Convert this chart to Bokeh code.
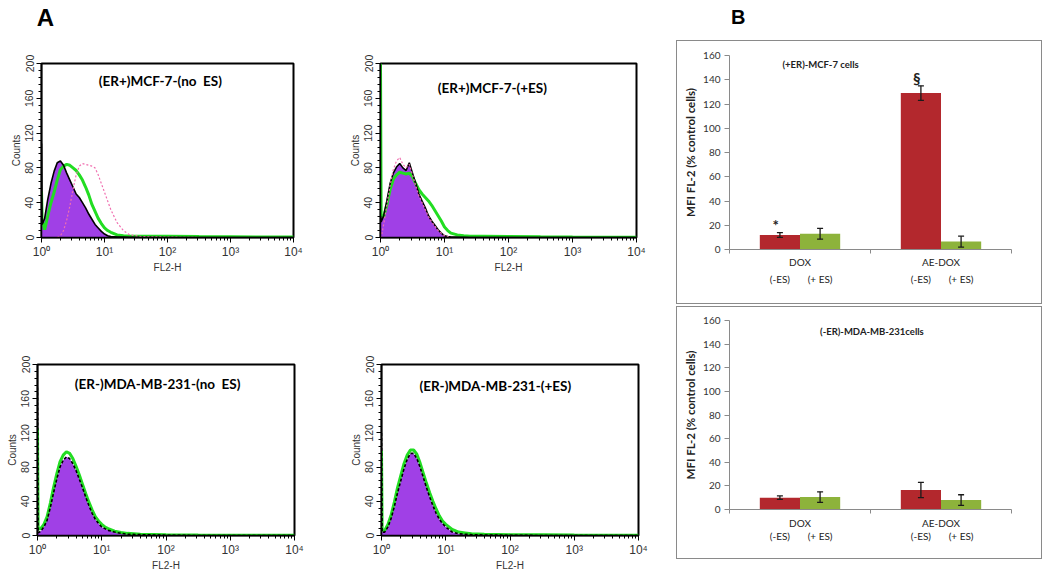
from bokeh.plotting import figure
from bokeh.layouts import row, column, Spacer
from bokeh.models import (Range1d, FixedTicker, LinearAxis, ColumnDataSource)
from bokeh.transform import dodge
from bokeh.core.properties import value
from bokeh.embed import file_html
from bokeh.resources import INLINE

# ---------------- DATA ----------------
# FL2-H channel positions (log-spaced bins)
fl2_h = [1.0, 1.023, 1.122, 1.259, 1.413, 1.585, 1.778, 1.995, 2.239, 2.512, 2.818,
         3.162, 3.548, 3.981, 4.467, 5.012, 5.623, 6.310, 7.079, 7.943, 8.913, 10.0,
         11.22, 12.59, 15.85, 19.95, 25.12, 39.81, 100.0, 316.2, 1000.0, 3162.0, 10000.0]

# (ER+) MCF-7, no ES
mcf7_noes_purple = [108, 15, 22, 44, 62, 76, 86, 88, 83, 74, 66, 58, 50, 46, 40, 34, 27, 21,
                    15, 11, 7, 4, 2, 1, 0.5, 0.5, 0.3, 0.2, 0, 0, 0, 0, 0]
mcf7_noes_green = [53, 20, 9, 25, 40, 52, 66, 78, 82, 84, 83, 80, 77, 72, 66, 58, 49, 38,
                   30, 22, 16, 11, 8, 6, 3, 2, 1.5, 1.5, 1.5, 1.2, 1, 0.5, 0.5]
mcf7_noes_pink = [0, 0, 0, 0, 0, 0, 0, 2, 8, 20, 36, 55, 72, 82, 85, 84, 83, 82,
                  80, 72, 62, 52, 42, 32, 17, 8, 3, 1, 0.5, 0, 0, 0, 0]
# (ER+) MCF-7, +ES
mcf7_es_purple = [25, 18, 25, 42, 62, 74, 81, 85, 80, 77, 86, 74, 62, 50, 42, 34, 25, 19,
                  14, 9, 5, 2, 1, 0.5, 0.3, 0.2, 0, 0, 0, 0, 0, 0, 0]
mcf7_es_green = [200, 25, 24, 38, 55, 67, 72, 75, 74, 73, 74, 70, 62, 55, 50, 46, 42, 37,
                 31, 25, 19, 12, 8, 5, 3, 2, 1.5, 1.5, 1.2, 0.8, 0.5, 0.3, 0.3]
mcf7_es_pink = [0, 0, 15, 38, 60, 78, 88, 92, 84, 80, 84, 72, 60, 48, 40, 32, 24, 18,
                13, 8, 5, 2, 1, 0, 0, 0, 0, 0, 0, 0, 0, 0, 0]
# (ER-) MDA-MB-231, no ES
mda_noes_purple = [173, 3, 5, 10, 18, 33, 50, 66, 80, 88, 92, 90, 84, 76, 66, 56, 45, 35,
                   26, 19, 14, 10, 8, 6, 4, 2.5, 1.5, 1, 0.3, 0, 0, 0, 0]
mda_noes_green = [125, 8, 8, 13, 22, 38, 56, 72, 86, 94, 98, 96, 90, 81, 71, 60, 49, 39,
                  30, 22, 17, 13, 10, 8, 5, 3.5, 2.5, 1.5, 1, 0.5, 0.3, 0.2, 0.2]
# (ER-) MDA-MB-231, +ES
mda_es_purple = [120, 4, 4, 10, 20, 34, 50, 64, 78, 89, 96, 96, 90, 80, 68, 56, 45, 35,
                 26, 19, 14, 10, 7, 4, 2, 1.5, 1, 0.5, 0.3, 0, 0, 0, 0]
mda_es_green = [99, 6, 6, 13, 24, 39, 56, 70, 84, 94, 100, 100, 95, 85, 73, 61, 50, 40,
                31, 23, 17, 13, 10, 7, 4, 3, 2, 1.5, 1, 0.8, 0.5, 0.3, 0.3]

hist_titles = ["(ER+)MCF-7-(no\u00a0\u00a0ES)", "(ER+)MCF-7-(+ES)",
               "(ER-)MDA-MB-231-(no\u00a0\u00a0ES)", "(ER-)MDA-MB-231-(+ES)"]
count_ticks = [0, 40, 80, 120, 160, 200]
count_minor = [0, 8, 16, 24, 32, 40, 48, 56, 64, 72, 80, 88, 96, 104, 112, 120, 128, 136,
               144, 152, 160, 168, 176, 184, 192, 200]
decade_ticks = [1, 10, 100, 1000, 10000]
decade_labels = ["10\u2070", "10\u00b9", "10\u00b2", "10\u00b3", "10\u2074"]

# Panel B: MFI FL-2 (% control cells)
treatments = ["DOX", "AE-DOX"]
es_labels = ["(-ES)", "(+ ES)"]
mcf7_minus_es = [12, 129]
mcf7_minus_es_err = [2, 6]
mcf7_plus_es = [13, 6.5]
mcf7_plus_es_err = [4.5, 4.5]
mcf7_sig = ["*", "\u00a7"]
mda_minus_es = [10, 16.5]
mda_minus_es_err = [1.5, 6.5]
mda_plus_es = [10.5, 8]
mda_plus_es_err = [4.5, 4.5]
mda_sig = ["", ""]
mfi_ticks = [0, 20, 40, 60, 80, 100, 120, 140, 160]

PURPLE = "#A040E6"
GREEN = "#22DD22"
PINK = "#F06FB0"
RED = "#B3282D"
OLIVE = "#8DB33B"
SANS = "Liberation Sans"
CAL = "Lato"


def hist(title, purple, green, pink, w, h, left, top, fw, fh, tx, ty, dashed):
    p = figure(width=w, height=h, x_axis_type="log", x_range=Range1d(1, 10000),
               y_range=Range1d(0, 200), output_backend="svg", toolbar_location=None,
               min_border_left=left, min_border_top=top,
               min_border_right=w - left - fw, min_border_bottom=h - top - fh)
    p.grid.visible = False
    p.outline_line_color = "black"
    p.outline_line_width = 2
    p.background_fill_color = "white"
    p.border_fill_color = "white"
    src = ColumnDataSource(dict(x=fl2_h, purple=purple, green=green,
                                pink=pink if pink else [0] * len(fl2_h)))
    p.varea(x="x", y1=0, y2="purple", source=src, fill_color=PURPLE)
    p.line(x="x", y="green", source=src, line_color=GREEN, line_width=3)
    p.line(x="x", y="purple", source=src, line_color="black",
           line_width=1.6, line_dash="3 2" if dashed else "solid")
    if pink:
        p.line(x="x", y="pink", source=src, line_color=PINK, line_width=1.2,
               line_dash="2 2")
    p.text(x=[tx], y=[ty], text=[title], text_font=value(CAL), text_font_style="bold",
           text_font_size="13.5px", text_align="center", text_baseline="middle",
           text_color="black")
    xa = p.xaxis[0]
    xa.ticker = FixedTicker(ticks=decade_ticks,
                            minor_ticks=[m * d for d in decade_ticks[:-1] for m in range(2, 10)])
    xa.major_label_overrides = dict(zip(decade_ticks, decade_labels))
    ya = p.yaxis[0]
    ya.ticker = FixedTicker(ticks=count_ticks, minor_ticks=count_minor)
    ya.major_label_orientation = "vertical"
    for ax, lab in ((xa, "FL2-H"), (ya, "Counts")):
        ax.axis_label = lab
        ax.axis_label_text_font = SANS
        ax.axis_label_text_font_style = "normal"
        ax.axis_label_text_font_size = "10px"
        ax.axis_label_text_color = "#333333"
        ax.axis_label_standoff = 1
        ax.major_label_text_font = SANS
        ax.major_label_text_font_size = "10.5px"
        ax.major_label_text_color = "#333333"
        ax.axis_line_color = "black"
        ax.axis_line_width = 1.5
        ax.major_tick_out = 5
        ax.major_tick_in = 0
        ax.minor_tick_out = 3
        ax.minor_tick_in = 0
        ax.major_tick_line_color = "black"
        ax.minor_tick_line_color = "black"
        ax.major_label_standoff = 3
    xa.major_label_text_font_size = "12px"
    xa.major_label_standoff = 2
    xa.axis_label_standoff = 0
    return p


def bars(title, tx, ty, minus, minus_err, plus, plus_err, sig, w, h,
         left, top, fw, fh, main_standoff, sub_standoff):
    n = len(treatments)
    p = figure(width=w, height=h, x_range=Range1d(0, n),
               y_range=Range1d(0, 160), output_backend="svg", toolbar_location=None,
               x_axis_location=None, min_border_left=left, min_border_top=top,
               min_border_right=w - left - fw, min_border_bottom=h - top - fh,
               styles={"border": "1.5px solid #8a8a8a", "box-sizing": "border-box"})
    p.grid.visible = False
    p.outline_line_color = None
    off = 0.1425
    bw = 0.285
    src = ColumnDataSource(dict(
        cat=treatments, pos=[i + 0.5 for i in range(n)], minus=minus, plus=plus,
        minus_lo=[v - e for v, e in zip(minus, minus_err)],
        minus_hi=[v + e for v, e in zip(minus, minus_err)],
        plus_lo=[v - e for v, e in zip(plus, plus_err)],
        plus_hi=[v + e for v, e in zip(plus, plus_err)],
        sig=sig))
    xm = dodge("pos", -off)
    xp = dodge("pos", off)
    p.vbar(x=xm, top="minus", width=bw, source=src, fill_color=RED, line_color=None)
    p.vbar(x=xp, top="plus", width=bw, source=src, fill_color=OLIVE, line_color=None)
    for xx, lo, hi in ((xm, "minus_lo", "minus_hi"), (xp, "plus_lo", "plus_hi")):
        p.segment(x0=xx, x1=xx, y0=lo, y1=hi, source=src, line_color="#1a1a1a",
                  line_width=1.3)
        p.scatter(x=xx, y=lo, marker="dash", size=6, source=src, line_color="#1a1a1a",
                  line_width=1.3)
        p.scatter(x=xx, y=hi, marker="dash", size=6, source=src, line_color="#1a1a1a",
                  line_width=1.3)
    p.text(x=dodge("pos", -off - 0.03), y="minus_hi", text="sig",
           source=src, text_font=value(CAL), text_font_size="15px", text_font_style="bold",
           text_align="center", text_baseline="bottom", y_offset=1, text_color="#222222")
    p.text(x=[tx], y=[ty], text=[title], text_font=value(CAL),
           text_font_style="bold", text_font_size="9.5px", text_align="center",
           text_baseline="middle", text_color="#222222")
    # y axis
    ya = p.yaxis[0]
    ya.ticker = FixedTicker(ticks=mfi_ticks)
    ya.axis_label = "MFI FL-2 (% control cells)"
    ya.axis_label_text_font = CAL
    ya.axis_label_text_font_style = "bold"
    ya.axis_label_text_font_size = "11.5px"
    ya.axis_label_text_color = "#222222"
    ya.axis_label_standoff = 3
    ya.major_label_text_font = CAL
    ya.major_label_text_font_size = "10px"
    ya.major_label_text_color = "#333333"
    ya.major_label_standoff = 4
    ya.axis_line_color = "#8a8a8a"
    ya.major_tick_line_color = "#8a8a8a"
    ya.major_tick_out = 5
    ya.major_tick_in = 0
    ya.minor_tick_line_color = None
    # category axis
    main = LinearAxis(ticker=FixedTicker(ticks=[i + 0.5 for i in range(n)],
                                         minor_ticks=list(range(n + 1))),
                      major_label_overrides={i + 0.5: c for i, c in enumerate(treatments)})
    main.axis_line_color = "#8a8a8a"
    main.major_tick_out = 0
    main.major_tick_in = 0
    main.minor_tick_out = 4
    main.minor_tick_in = 0
    main.minor_tick_line_color = "#8a8a8a"
    main.major_label_standoff = main_standoff
    main.major_label_text_font = CAL
    main.major_label_text_font_size = "10px"
    main.major_label_text_color = "#222222"
    p.add_layout(main, "below")
    sub_pos = []
    sub_txt = []
    for i in range(n):
        sub_pos += [i + 0.5 - off, i + 0.5 + off]
        sub_txt += es_labels
    sub = LinearAxis(ticker=FixedTicker(ticks=sub_pos, minor_ticks=[]),
                     major_label_overrides=dict(zip(sub_pos, sub_txt)))
    sub.axis_line_color = None
    sub.major_tick_line_color = None
    sub.minor_tick_line_color = None
    sub.major_tick_out = 0
    sub.major_tick_in = 0
    sub.major_label_standoff = sub_standoff
    sub.major_label_text_font = CAL
    sub.major_label_text_font_size = "10px"
    sub.major_label_text_color = "#222222"
    p.add_layout(sub, "below")
    return p


def header(letter, w, h, x, y, size):
    p = figure(width=w, height=h, x_range=Range1d(0, w), y_range=Range1d(0, h),
               output_backend="svg", toolbar_location=None, min_border=0,
               x_axis_location=None, y_axis_location=None, outline_line_color=None)
    p.grid.visible = False
    p.text(x=[x], y=[y], text=[letter], text_font=value(SANS), text_font_style="bold",
           text_font_size=size, text_align="center", text_baseline="middle",
           text_color="black")
    return p


hA = header("A", 664, 40, 45, 23.5, "24px")
tl = hist(hist_titles[0], mcf7_noes_purple, mcf7_noes_green, mcf7_noes_pink,
          332, 260, 41, 21, 252, 176, 77, 180, False)
tr = hist(hist_titles[1], mcf7_es_purple, mcf7_es_green, mcf7_es_pink,
          332, 260, 48, 23, 256, 174, 56, 172, False)
bl = hist(hist_titles[2], mda_noes_purple, mda_noes_green, None,
          332, 279, 37, 62, 257, 173, 74, 177, True)
br = hist(hist_titles[3], mda_es_purple, mda_es_green, None,
          332, 279, 49, 64, 257, 173, 59, 175, True)

hB = header("B", 366, 40, 12.5, 23.5, "20px")
b_top = bars("(+ER)-MCF-7 cells", 0.646, 152.6, mcf7_minus_es, mcf7_minus_es_err,
             mcf7_plus_es, mcf7_plus_es_err, mcf7_sig, 366, 264, 52, 14, 285, 194, 2, 2)
b_bot = bars("(-ER)-MDA-MB-231cells", 1.01, 150.7, mda_minus_es, mda_minus_es_err,
             mda_plus_es, mda_plus_es_err, mda_sig, 366, 253, 44, 13, 290, 189, 3, -2)

layout = row(column(hA, row(tl, tr), row(bl, br)),
             Spacer(width=12, height=10),
             column(hB, b_top, Spacer(width=10, height=2), b_bot))

open("out.html", "w").write(file_html(layout, INLINE))
